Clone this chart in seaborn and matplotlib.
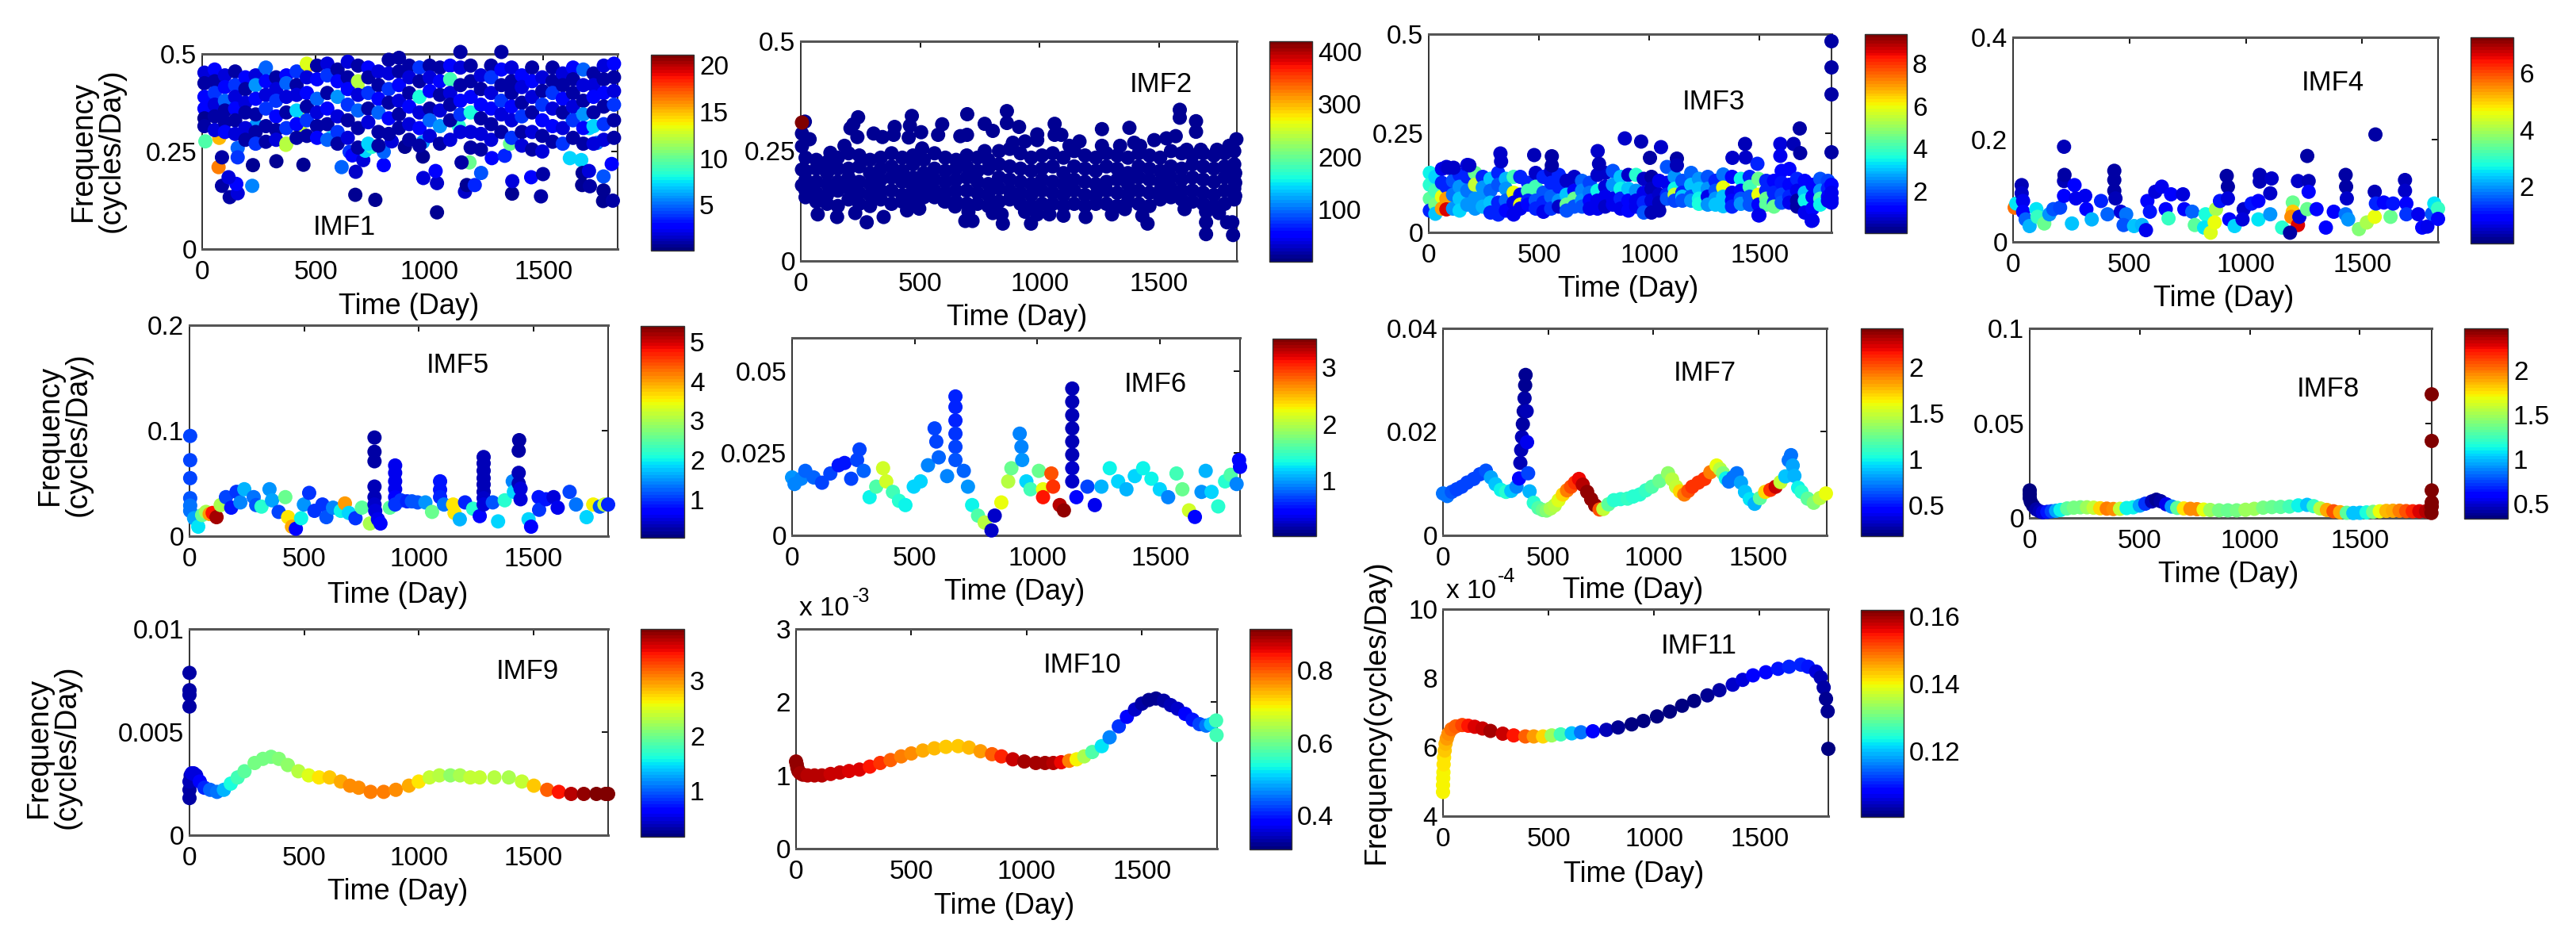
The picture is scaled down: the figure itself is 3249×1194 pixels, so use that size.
import numpy as np
import pandas as pd
import matplotlib
matplotlib.use("Agg")
import matplotlib.pyplot as plt
from matplotlib.cm import ScalarMappable
from matplotlib.colors import Normalize
import seaborn as sns

# ---------- data: (day, frequency, amplitude) ----------
IMF1_COL_DAY = [10,55,100,145,190,235,280,325,370,415,460,505,550,595,640,685,730,775,820,865,910,955,1000,1045,1090,1135,1180,1225,1270,1315,1360,1405,1450,1495,1540,1585,1630,1675,1720,1765,1810]
IMF1_COL_FREQ = [[.452,.425,.39,.36,.335,.315],[.46,.43,.40,.37,.34,.305],[.445,.415,.38,.355,.325,.30],[.455,.42,.39,.36,.33,.295],[.44,.41,.375,.35,.31,.28],[.445,.42,.385,.345,.30,.27],[.465,.43,.395,.36,.315,.275],[.44,.41,.38,.34,.305,.28],[.445,.425,.39,.35,.31,.27],[.455,.42,.395,.355,.32,.285],[.475,.44,.40,.365,.33,.29],[.47,.435,.385,.35,.315,.285],[.475,.445,.40,.36,.32,.28],[.46,.43,.39,.34,.30,.27],[.48,.44,.41,.37,.33,.285],[.47,.43,.395,.355,.31,.26],[.465,.44,.40,.36,.325,.27],[.455,.42,.385,.35,.30,.265],[.485,.45,.41,.375,.335,.295],[.49,.455,.42,.38,.345,.31],[.47,.44,.40,.365,.32,.28],[.465,.43,.39,.35,.31,.265],[.47,.44,.405,.36,.33,.29],[.465,.43,.395,.355,.315,.27],[.47,.435,.40,.37,.33,.28],[.505,.465,.42,.38,.345,.30],[.47,.43,.39,.35,.30,.26],[.445,.41,.37,.335,.295,.255],[.47,.44,.40,.36,.32,.28],[.505,.46,.42,.38,.345,.30],[.465,.43,.40,.365,.33,.285],[.445,.415,.375,.34,.30,.265],[.465,.43,.39,.35,.30,.255],[.44,.405,.37,.33,.29,.25],[.465,.43,.40,.36,.315,.275],[.45,.42,.385,.35,.31,.27],[.465,.435,.40,.365,.33,.285],[.46,.42,.38,.345,.31,.27],[.45,.42,.39,.35,.315,.27],[.47,.435,.40,.365,.32,.28],[.475,.44,.405,.37,.33,.285]]
IMF1_COL_AMP = [[2,.8,3,3,.6,.8],[3,1,4,2,1,2],[2,3,5,1,.8,3],[1,4,2,3,1,2],[3,1,2,.8,2,1],[2,6,3,1,.8,4],[5,3,2,4,1,.8],[1,2,4,3,.8,2],[3,5,2,1,4,12],[4,1,2,7,3,.8],[13,2,3,1,4,.8],[1,3,5,2,.8,3],[2,4,1,3,.8,5],[1,3,6,2,4,1],[2,1,3,4,.8,2],[1,12,2,5,.8,.8],[3,.8,4,1,2,7],[2,1,3,5,.8,1],[.8,2,4,1,3,1],[1,.8,3,2,.8,1],[1,2,.8,3,2,.8],[4,1,8,2,3,1],[.8,2,3,1,5,2],[1,3,.8,2,6,1],[3,9,2,1,.8,2],[.8,2,1,3,4,2],[1,.8,3,8,2,1],[2,1,3,.8,2,1],[1,4,2,3,.8,2],[.8,3,1,4,2,1],[2,1,.8,3,2,4],[3,2,1,4,.8,2],[1,3,2,.8,2,1],[2,1,4,3,.8,2],[1,.8,4,2,3,1],[2,1,3,.8,2,4],[3,.8,1,2,4,1],[5,2,1,6,3,.8],[1,2,3,.8,7,2],[2,1,3,.8,4,2],[3,1,2,4,.8,1]]
IMF1_DAY = [72,87,121,156,87,150,116,220,326,445,223,673,761,1032,972,1032,1026,675,613,798,1155,1163,1198,1226,1175,1140,1362,1363,1489,1446,1498,1670,1704,1764,1764,1762,1805,1666,1616,1672,1700,1800,1273,1330,1353,970,970,648,660,708,717,798,833,891,746,156,156,368,434,437,14,75,1128,683,463,272,567,237,1701,1625,1735]
IMF1_FREQ = [.21,.235,.133,.143,.162,.167,.184,.162,.225,.216,.215,.139,.126,.094,.182,.169,.2,.198,.21,.215,.147,.164,.164,.195,.222,.222,.142,.174,.135,.184,.192,.164,.161,.186,.15,.123,.124,.228,.233,.195,.2,.218,.233,.239,.27,.237,.274,.249,.24,.228,.252,.249,.276,.262,.262,.259,.235,.267,.3,.337,.276,.285,.315,.416,.47,.455,.285,.317,.31,.337,.272]
IMF1_AMP = [16.5,.8,.8,2,1,3,2,5.5,.6,.6,.6,.6,.6,.5,2,1.5,2.5,1.5,5,2.5,1.5,.6,3.5,4.5,10,.8,.6,2,1,2.5,.8,.6,.8,4.5,.7,.7,.8,7,7,.7,2,2.5,2.5,3.5,10,.7,6,4,3,2,7,5,2,.7,8.5,5,4,12.5,12.5,12.5,9.5,15,8.5,12.5,15,6.5,7,6,7,7,5]

IMF2_COL_DAY = [20,65,110,155,200,245,290,335,380,425,470,515,560,605,650,695,740,785,830,875,920,965,1010,1055,1100,1145,1190,1235,1280,1325,1370,1415,1460,1505,1550,1595,1640,1685,1730,1775,1815]
IMF2_COL_FREQ = [[.235,.205,.185,.16,.145],[.23,.21,.18,.155,.135],[.225,.2,.175,.15,.13],[.235,.21,.18,.16,.125],[.245,.21,.19,.165,.14],[.24,.215,.18,.155,.13],[.23,.2,.175,.15,.125],[.235,.21,.185,.16,.14],[.245,.215,.19,.16,.13],[.235,.205,.18,.15,.135],[.24,.22,.19,.165,.14],[.23,.2,.175,.155,.145],[.245,.21,.185,.16,.145],[.235,.205,.18,.155,.135],[.23,.21,.185,.16,.135],[.24,.215,.19,.16,.13],[.235,.205,.18,.155,.13],[.23,.21,.175,.15,.125],[.25,.22,.19,.165,.135],[.255,.215,.185,.16,.14],[.245,.21,.18,.155,.13],[.235,.205,.175,.15,.125],[.24,.21,.185,.16,.13],[.245,.215,.18,.155,.13],[.235,.2,.175,.15,.125],[.25,.215,.185,.16,.13],[.24,.21,.18,.15,.125],[.235,.205,.175,.15,.13],[.245,.215,.18,.16,.13],[.24,.21,.185,.155,.125],[.235,.2,.175,.15,.135],[.245,.215,.19,.16,.13],[.24,.21,.185,.155,.125],[.235,.205,.18,.16,.14],[.25,.215,.19,.165,.145],[.245,.21,.185,.16,.14],[.24,.22,.19,.16,.135],[.245,.215,.185,.155,.13],[.24,.21,.18,.15,.125],[.245,.215,.19,.16,.13],[.25,.22,.195,.165,.14]]
IMF2_DAY = [17,5,37,5,124,183,208,220,240,237,305,342,393,389,465,457,452,504,508,592,575,668,696,697,770,770,804,863,863,914,888,939,990,990,1063,1063,1091,1167,1125,1261,1261,1337,1376,1396,1421,1480,1531,1570,1587,1587,1655,1655,1616,1675,1743,1794,1824,71,152,228,276,347,445,496,601,646,689,719,702,804,846,841,964,939,990,1041,1100,1193,1303,1357,1430,1452,1607,1697,1697,1697,1751,1785,1810,1807,1819,1819,1819,5,5,29,42,5]
IMF2_FREQ = [.317,.29,.277,.261,.246,.262,.302,.311,.327,.282,.29,.282,.305,.287,.33,.308,.281,.293,.256,.311,.287,.284,.287,.334,.312,.25,.296,.341,.314,.305,.269,.272,.288,.275,.312,.287,.287,.272,.262,.3,.262,.262,.303,.269,.262,.275,.279,.284,.344,.326,.318,.294,.253,.253,.253,.262,.277,.106,.1,.109,.088,.1,.115,.119,.136,.124,.091,.091,.112,.109,.085,.106,.085,.112,.106,.106,.103,.1,.106,.118,.103,.085,.118,.112,.088,.061,.109,.088,.059,.088,.148,.178,.2,.172,.208,.154,.172,.315]
IMF2_AMP_LOW = 8
IMF2_AMP_HIGH = 420

IMF3_COL_DAY = [5,30,60,80,110,140,175,210,245,280,315,350,385,415,450,485,520,555,590,625,660,695,730,765,800,835,870,905,940,975,1010,1045,1080,1115,1150,1190,1225,1265,1300,1335,1375,1415,1455,1495,1530,1565,1600,1635,1670,1705,1740,1775,1810,1826]
IMF3_COL_FREQ = [[.15,.12,.085,.055],[.14,.105,.07,.047],[.16,.125,.09,.06],[.165,.115,.085,.058],[.16,.13,.095,.06],[.145,.115,.085,.055],[.17,.14,.105,.07],[.15,.12,.085,.06],[.14,.113,.09,.065],[.135,.105,.075,.05],[.15,.12,.075,.045],[.135,.11,.08,.055],[.14,.1,.075,.045],[.14,.095,.07,.06],[.125,.105,.08,.07],[.15,.115,.08,.06],[.14,.1,.075,.052],[.155,.125,.09,.06],[.145,.115,.08,.065],[.13,.095,.07,.055],[.14,.105,.085,.065],[.13,.105,.08,.065],[.125,.1,.08,.06],[.145,.105,.08,.06],[.15,.115,.09,.065],[.155,.12,.085,.07],[.14,.11,.085,.06],[.145,.11,.08,.055],[.145,.105,.08,.065],[.135,.1,.075,.05],[.14,.11,.08,.05],[.13,.095,.075,.055],[.165,.125,.095,.085],[.14,.11,.095,.08],[.13,.1,.09,.08],[.15,.12,.09,.08],[.135,.11,.085,.072],[.14,.11,.09,.07],[.13,.105,.085,.07],[.146,.113,.09,.066],[.14,.1,.08,.065],[.135,.105,.085,.072],[.14,.115,.09,.07],[.135,.095,.07,.043],[.13,.105,.085,.07],[.13,.1,.075,.065],[.155,.125,.095,.075],[.16,.12,.09,.075],[.135,.105,.08,.065],[.13,.1,.08,.05],[.12,.09,.06,.03],[.135,.105,.085,.07],[.13,.11,.09,.08],[.12,.1,.085,.075]]
IMF3_COL_AMP = [[3.5,3.8,4.3,1.5],[3.2,4,4.6,3],[.9,1.5,6,7],[.8,1.5,7,8.6],[.8,2,2.3,2.5],[1.5,2.5,3,3.2],[.8,1.5,2.3,2.5],[4.5,5.5,2.5,2.5],[1.5,2.5,2.5,2.8],[3,2.2,3,1.5],[1.5,2,1.5,1.5],[2.8,2.5,2.2,1.3],[4,6,1,1],[1.5,1,6,1],[1.5,4,1.5,1.2],[.7,4,2,1.5],[1.5,2,1.5,1],[.7,1.5,2.2,1.7],[1.5,1.5,2.5,.7],[.7,3,4.5,2],[.7,1.2,4.5,2],[2.2,2.4,2.6,2],[1.8,2.3,1.2,1],[.7,3.5,.9,1],[.7,.8,1,.7],[2,2.5,1,1],[3,3.5,1.5,1],[.7,3,1.3,1.3],[3.7,2.5,1,.9],[.6,1,1.5,2],[.4,.5,.8,.5],[1,.6,.5,.5],[2,1,1.5,2],[2.5,3.5,5.5,1.8],[2,1.5,3,2],[2.2,3,2,2.5],[2.5,3,3.5,3.6],[2,2.5,1,2.5],[1.5,2,2.5,3],[2.3,6,3,3],[1.3,1,1.3,1.5],[3.5,1.2,2,2.5],[1.5,4,2,2],[4.5,6,1.2,1],[1.5,1.5,4.5,4.3],[1.3,1.5,1.5,4.5],[1.3,1.4,1.8,2],[1.3,1.3,1.5,1],[1.5,1,.4,.4],[1.2,3,3.5,1],[1.1,1.3,1.3,1],[2,2.5,4,3.5],[1.8,1.5,1.3,1],[1.2,1,1,1]]
IMF3_DAY = [1826,1826,1826,1826,1682,889,963,1053,1003,1434,1377,1437,1594,1654,1684,1594,1490,478,558,558,766,772,325,328,184,89,113,1125,1125,1499,1736]
IMF3_FREQ = [.482,.416,.348,.202,.262,.237,.229,.215,.188,.223,.188,.189,.223,.223,.2,.193,.173,.195,.192,.169,.205,.173,.199,.179,.169,.163,.163,.186,.169,.043,.029]
IMF3_AMP = [.3,.3,.3,.3,.3,.6,.5,.6,.4,.5,.6,.6,.8,.5,.3,.9,1.5,.5,.3,.4,.7,.5,.7,.7,.7,.6,.6,.4,.5,.9,.9]

IMF4_DAY = [7,14,37,37,43,43,54,71,100,105,134,156,173,202,219,221,219,219,253,264,270,310,315,338,378,406,435,435,435,440,463,486,475,520,554,571,577,588,611,639,656,679,668,730,736,770,781,827,821,849,872,866,889,918,923,923,929,952,991,986,1025,1054,1060,1060,1111,1105,1054,1105,1156,1202,1202,1196,1224,1230,1190,1264,1224,1270,1270,1264,1304,1344,1378,1429,1431,1434,1429,1440,1486,1520,1554,1554,1559,1593,1622,1633,1684,1684,1690,1690,1741,1758,1557,1780,1800,1810,1826,1826]
IMF4_FREQ = [.067,.075,.111,.095,.08,.059,.044,.031,.064,.049,.036,.054,.064,.067,.119,.131,.186,.09,.036,.111,.085,.09,.064,.044,.08,.054,.139,.121,.1,.085,.059,.054,.033,.031,.033,.023,.08,.059,.098,.108,.064,.093,.046,.093,.064,.059,.033,.054,.028,.018,.064,.038,.08,.129,.108,.085,.044,.031,.064,.044,.075,.08,.131,.118,.124,.095,.044,.054,.028,.077,.059,.049,.033,.049,.018,.168,.119,.119,.098,.064,.064,.028,.059,.131,.108,.085,.054,.044,.025,.038,.049,.098,.075,.077,.049,.075,.121,.1,.075,.054,.054,.028,.21,.03,.055,.075,.065,.045]
IMF4_AMP = [5.7,2.5,.4,.5,.7,1,1.6,2.2,2.6,3,3.4,2,1.5,1.4,.4,.3,.4,.8,2.3,.8,.7,.7,.9,2.2,1.2,1.6,.3,.3,.3,.4,.6,1.7,1.5,2.3,2.2,.7,1,1.1,.6,.7,.9,.8,3,.6,1,1.6,3.3,2.8,2.5,4.5,4,4.6,1.1,.3,.3,.6,1,2.4,.5,.6,1.1,.9,.4,.4,.5,.5,2.5,2,2.9,3.4,5,5.5,6.6,.6,.3,.3,.5,.4,.8,3.5,1,.8,.8,.3,.3,.5,1.8,2,3.7,4,4.6,.4,1.2,.9,3.5,1.1,.4,.5,.9,1.3,.7,.8,.3,.7,1.5,2.5,3,1]

IMF5_DAY = [3,3,3,3,3,3,20,38,55,72,88,101,118,136,159,182,205,222,239,280,291,314,349,360,389,418,430,447,464,487,499,522,545,580,597,626,660,678,695,724,752,787,807,807,807,807,807,807,810,822,833,874,897,897,897,897,897,897,922,949,970,995,1029,1058,1093,1093,1093,1110,1150,1156,1179,1202,1237,1266,1283,1283,1283,1283,1283,1283,1283,1283,1323,1346,1375,1410,1415,1438,1436,1436,1436,1444,1444,1479,1490,1523,1525,1555,1588,1606,1658,1686,1732,1761,1790,1810,1826]
IMF5_FREQ = [.095,.072,.055,.036,.029,.024,.017,.009,.02,.023,.021,.022,.018,.0295,.037,.027,.042,.032,.0445,.037,.0295,.028,.0445,.034,.023,.037,.018,.009,.007,.017,.03,.041,.024,.03,.018,.027,.024,.031,.022,.017,.027,.012,.0935,.08,.071,.047,.037,.03,.024,.016,.012,.027,.067,.06,.052,.0445,.037,.03,.034,.033,.033,.032,.032,.023,.052,.044,.037,.03,.03,.022,.016,.032,.026,.019,.075,.069,.062,.055,.049,.042,.036,.03,.032,.014,.034,.052,.042,.091,.081,.06,.05,.045,.035,.016,.009,.037,.025,.035,.037,.027,.042,.03,.018,.03,.028,.03,.03]
IMF5_AMP = [1.1,1.1,1.1,1.2,1.3,1.3,1.6,1.9,2.6,3,4,4.8,5.2,3,1.1,.8,1,1.4,1.7,1.3,1.2,2.2,1.5,1.6,1.1,2.6,3.6,3.9,.7,2,1.5,1,1,1,1.2,1.4,2,4,1.8,1,2.5,3,.2,.2,.2,.3,.3,.4,.5,.6,.7,2.5,.6,.6,.6,.6,.7,1,1,.9,1.2,1.2,1.5,2.6,.8,.8,.9,1.3,3.6,3.6,1.7,.9,2.2,.7,.3,.3,.3,.3,.3,.3,.4,.5,1.2,1.8,2.2,1.4,1.8,.2,.2,.3,.3,.5,.5,1.8,.7,.8,1,.8,.5,.6,1.1,1.3,1.8,3.5,1.2,3.2,.9]

IMF6_DAY = [0,10,37,54,88,122,156,190,214,241,265,275,292,316,343,371,384,411,436,462,496,524,554,581,588,598,632,666,666,666,666,666,666,700,717,734,758,785,813,826,853,881,894,928,935,938,955,972,1006,1023,1023,1057,1064,1091,1108,1142,1142,1142,1142,1142,1142,1142,1142,1159,1204,1234,1261,1295,1329,1363,1397,1431,1465,1499,1533,1567,1591,1618,1642,1669,1686,1710,1737,1765,1788,1812,1822,1826]
IMF6_FREQ = [.0176,.0156,.0172,.0196,.0176,.016,.0188,.0213,.022,.0172,.0229,.0261,.0196,.0116,.0148,.0204,.0164,.0132,.0105,.0092,.0148,.0164,.0213,.0325,.0285,.0237,.018,.0422,.039,.0349,.0309,.0269,.0229,.0196,.0148,.0092,.006,.0039,.0015,.006,.01,.0164,.0204,.0309,.0269,.0229,.0164,.014,.0196,.014,.0116,.0188,.0148,.0092,.0076,.0446,.0406,.0365,.0325,.0285,.0245,.0204,.0164,.0116,.0148,.0092,.0148,.0204,.0164,.014,.018,.0204,.0172,.014,.0116,.0188,.014,.0076,.0056,.0132,.0196,.0132,.0088,.0164,.0184,.0156,.0229,.0208]
IMF6_AMP = [1,.9,.9,.8,.8,.7,.7,.55,.55,.7,.7,.7,.8,1.3,1.6,2.1,2.1,1.5,1.4,1.3,1.2,1.2,.9,.7,.7,.8,.9,.6,.6,.6,.65,.7,.75,.8,1,1.3,1.6,2,.3,.3,2.2,2,1.7,.9,.9,1,1.2,1.5,1.7,2.2,3.1,2.9,3,3.3,3.4,.2,.2,.2,.2,.2,.2,.25,.3,.5,.7,.4,1.1,1.3,1.2,1.1,1.2,1.3,1.3,1.2,.9,1.5,1.7,2.1,.5,1,1.1,1.2,1.4,1.4,1.6,.9,.5,.5]

IMF7_DAY = [0,20,42,65,89,115,146,175,204,228,250,275,300,325,350,362,368,372,376,380,384,388,391,393,398,400,405,412,432,454,475,493,512,532,550,570,590,609,628,647,665,686,705,724,745,763,787,813,845,878,905,936,965,994,1030,1071,1090,1109,1128,1148,1167,1186,1215,1244,1272,1302,1318,1333,1346,1360,1380,1398,1418,1437,1460,1483,1508,1533,1558,1583,1606,1629,1645,1656,1664,1672,1690,1706,1735,1764,1793,1822]
IMF7_FREQ = [.0081,.0076,.0084,.0089,.0094,.0102,.0109,.0118,.0125,.0112,.0099,.0088,.0084,.0086,.0094,.011,.014,.0165,.019,.0215,.024,.0265,.029,.031,.024,.018,.012,.0085,.0063,.0053,.0049,.0048,.0052,.0058,.0068,.0079,.0087,.0094,.0102,.0109,.0098,.0084,.007,.0058,.005,.0051,.006,.0068,.007,.0071,.0075,.0079,.0087,.0094,.0105,.012,.0108,.0094,.0085,.0079,.0086,.0094,.0102,.0109,.0122,.0135,.0128,.012,.011,.0104,.0112,.012,.0102,.0084,.007,.0061,.0072,.0084,.0088,.0094,.0103,.0114,.0145,.0155,.0135,.0115,.0092,.0084,.0071,.0063,.0072,.0081]
IMF7_AMP = [.7,.7,.65,.6,.6,.6,.6,.6,.65,.8,.9,1,1.05,.9,.75,.45,.3,.3,.3,.25,.25,.25,.22,.22,.3,.4,.6,.85,1.05,1.15,1.25,1.3,1.4,1.45,1.55,1.7,1.9,2,2.1,2.2,2.3,2.35,2.38,2.35,2,1.5,1.2,1.05,1.05,1.1,1.05,1.05,1.1,1.15,1.25,1.35,1.45,1.5,1.7,1.9,2,2.1,2.1,2.1,1.9,1.6,1.45,1.3,1,.7,.7,.7,.8,.9,.95,.85,1.2,1.7,2.1,2.25,1.5,.9,.7,.7,.8,.85,1,1.05,1.2,1.3,1.45,1.6]

IMF8_DAY = [0,0,0,5,15,30,45,60,80,100,120,140,170,200,230,260,290,320,350,380,410,440,470,500,525,555,575,595,620,645,670,700,730,760,790,820,860,900,940,980,1020,1060,1100,1140,1180,1220,1260,1290,1320,1350,1380,1410,1440,1470,1500,1530,1560,1590,1620,1650,1680,1710,1740,1770,1800,1820,1825,1826,1826,1826,1826,1826]
IMF8_FREQ = [.0145,.0125,.0105,.0085,.0065,.0045,.0035,.003,.0032,.0035,.0038,.0042,.005,.0054,.0056,.0056,.0054,.0051,.0049,.0047,.0048,.0052,.0056,.0065,.0075,.0087,.0096,.0088,.0072,.006,.0053,.005,.0048,.0046,.0044,.0042,.004,.004,.004,.0043,.0048,.0054,.0057,.0058,.006,.0066,.0069,.0062,.005,.0042,.0035,.003,.0027,.0026,.0027,.0029,.0032,.0035,.0037,.0038,.0038,.0036,.0035,.0035,.0035,.0045,.0026,.006,.0082,.0145,.0406,.0652]
IMF8_AMP = [.35,.35,.35,.35,.35,.4,.45,.5,.65,.75,.95,1.1,1.3,1.4,1.4,1.5,1.6,1.8,2,1.95,1.6,1.1,1.1,.95,.7,.45,.38,.4,.55,.9,1.3,1.75,1.95,1.95,1.7,1.5,1.4,1.35,1.4,1.5,1.5,1.4,1.35,1.3,1.25,1.1,1,1.2,1.55,1.9,2.1,1.9,1.3,1,1,1.15,1.4,1.7,1.85,1.9,2,2.1,2.2,2.3,2.35,2.4,2.45,2.47,2.47,2.47,2.47,2.47]

IMF9_DAY = [0,0,0,0,0,0,0,5,10,18,29,45,65,90,120,150,180,210,240,284,320,356,390,429,475,520,565,611,660,700,738,790,847,900,957,1000,1047,1090,1138,1180,1225,1266,1330,1393,1450,1502,1560,1611,1665,1720,1775,1815,1826]
IMF9_FREQ = [.00787,.00703,.0068,.00624,.0018,.0022,.0026,.0029,.003,.003,.0029,.0026,.0023,.0022,.0021,.0022,.0025,.0028,.0031,.0035,.0037,.0038,.0037,.0034,.0031,.0029,.0028,.0028,.0026,.0024,.0023,.0021,.0021,.0022,.0024,.0026,.0028,.0029,.0029,.0029,.0028,.0028,.0028,.0028,.0026,.0024,.0022,.0021,.002,.002,.002,.002,.002]
IMF9_AMP = [.3,.3,.3,.3,.3,.3,.35,.4,.5,.5,.5,.6,.8,1,1.1,1.3,1.6,1.8,1.9,2,2,2.05,2.1,2.15,2.3,2.5,2.7,2.8,2.9,3,3.05,3.1,3.1,3.05,2.9,2.7,2.4,2.3,2.15,2.25,2.35,2.4,2.3,2.25,2.4,2.8,3.2,3.5,3.75,3.85,3.9,3.94,3.94]

IMF10_DAY = [0,3,6,10,18,30,50,80,112,150,190,230,275,320,365,410,456,500,550,600,650,703,750,800,850,891,940,990,1040,1080,1116,1150,1185,1217,1250,1285,1326,1360,1400,1435,1470,1500,1530,1561,1595,1625,1655,1688,1720,1750,1779,1800,1822,1824]
IMF10_FREQ = [1.19,1.15,1.1,1.06,1.03,1.01,1,1,1,1.02,1.04,1.06,1.08,1.12,1.17,1.21,1.26,1.3,1.34,1.37,1.39,1.4,1.38,1.33,1.29,1.26,1.22,1.19,1.17,1.17,1.17,1.18,1.2,1.22,1.26,1.32,1.4,1.52,1.67,1.8,1.9,1.98,2.03,2.05,2.02,1.96,1.91,1.84,1.76,1.7,1.68,1.7,1.75,1.55]
IMF10_AMP = [.9,.9,.9,.9,.89,.89,.88,.88,.88,.87,.87,.86,.86,.84,.82,.8,.78,.77,.75,.74,.73,.73,.74,.76,.8,.83,.87,.89,.89,.89,.88,.85,.78,.7,.64,.58,.52,.46,.41,.38,.35,.33,.32,.32,.33,.34,.35,.38,.4,.42,.45,.5,.57,.57]

IMF11_DAY = [0,0,1,2,3,5,8,12,18,26,40,60,91,120,150,187,225,283,335,390,430,474,515,558,610,654,710,774,830,894,950,1014,1075,1133,1190,1253,1310,1373,1420,1469,1530,1588,1640,1696,1730,1768,1790,1804,1815,1823,1826]
IMF11_FREQ = [4.7,4.9,5.1,5.27,5.5,5.7,5.9,6.1,6.25,6.39,6.52,6.6,6.64,6.62,6.59,6.54,6.47,6.39,6.34,6.31,6.31,6.31,6.34,6.37,6.4,6.43,6.46,6.5,6.57,6.66,6.76,6.89,7.03,7.2,7.34,7.5,7.65,7.81,7.95,8.08,8.17,8.27,8.33,8.39,8.33,8.19,8.02,7.73,7.4,7.04,5.95]
IMF11_AMP = [.14,.14,.14,.14,.141,.141,.143,.144,.146,.147,.149,.15,.152,.155,.157,.158,.16,.158,.155,.15,.146,.142,.134,.127,.12,.115,.108,.104,.102,.101,.1005,.1005,.1005,.1005,.101,.102,.103,.105,.106,.108,.109,.11,.111,.111,.11,.106,.104,.103,.102,.102,.101]


def flatten(days, freqs, amps):
    d, f, a = [], [], []
    for day, fs, am in zip(days, freqs, amps):
        for x, y in zip(fs, am):
            d.append(day); f.append(x); a.append(y)
    return d, f, a


c1 = flatten(IMF1_COL_DAY, IMF1_COL_FREQ, IMF1_COL_AMP)
c2f = IMF2_COL_FREQ
c2 = flatten(IMF2_COL_DAY, c2f, [[IMF2_AMP_LOW] * len(v) for v in c2f])
c3 = flatten(IMF3_COL_DAY, IMF3_COL_FREQ, IMF3_COL_AMP)

SERIES = {
    "IMF1": (IMF1_DAY + c1[0], IMF1_FREQ + c1[1], IMF1_AMP + c1[2]),
    "IMF2": (c2[0] + IMF2_DAY, c2[1] + IMF2_FREQ, c2[2] + [IMF2_AMP_LOW] * (len(IMF2_DAY) - 1) + [IMF2_AMP_HIGH]),
    "IMF3": (c3[0] + IMF3_DAY, c3[1] + IMF3_FREQ, c3[2] + IMF3_AMP),
    "IMF4": (IMF4_DAY, IMF4_FREQ, IMF4_AMP),
    "IMF5": (IMF5_DAY, IMF5_FREQ, IMF5_AMP),
    "IMF6": (IMF6_DAY, IMF6_FREQ, IMF6_AMP),
    "IMF7": (IMF7_DAY, IMF7_FREQ, IMF7_AMP),
    "IMF8": (IMF8_DAY, IMF8_FREQ, IMF8_AMP),
    "IMF9": (IMF9_DAY, IMF9_FREQ, IMF9_AMP),
    "IMF10": (IMF10_DAY, IMF10_FREQ, IMF10_AMP),
    "IMF11": (IMF11_DAY, IMF11_FREQ, IMF11_AMP),
}

# ---------- layout (pixels of the target image) ----------
W, H = 3249, 1194
PANELS = [
    # name, axes box, colour-bar box, ylim, yticks, ylabels, clim, cticks, clabels, name xy, xlabel xy
    ("IMF1",(255,68,779,314),(821,69,875,316),(0,.5),[0,.25,.5],["0","0.25","0.5"],(.1,21.1),[5,10,15,20],["5","10","15","20"],(434,287),(516,387)),
    ("IMF2",(1010,52,1560,329),(1601,52,1655,330),(0,.5),[0,.25,.5],["0","0.25","0.5"],(0,420),[100,200,300,400],["100","200","300","400"],(1464,107),(1283,400)),
    ("IMF3",(1802,43,2310,293),(2352,43,2405,294),(0,.5),[0,.25,.5],["0","0.25","0.5"],(0,9.4),[2,4,6,8],["2","4","6","8"],(2161,128),(2054,364)),
    ("IMF4",(2539,47,3075,305),(3116,47,3170,307),(0,.4),[0,.2,.4],["0","0.2","0.4"],(0,7.25),[2,4,6],["2","4","6"],(2942,104),(2805,377)),
    ("IMF5",(239,410,767,676),(808,411,863,678),(0,.2),[0,.1,.2],["0","0.1","0.2"],(.03,5.4),[1,2,3,4,5],["1","2","3","4","5"],(577,460),(502,750)),
    ("IMF6",(999,426,1564,675),(1605,427,1660,676),(0,.06),[0,.025,.05],["0","0.025","0.05"],(.03,3.5),[1,2,3],["1","2","3"],(1457,484),(1280,747)),
    ("IMF7",(1820,414,2304,675),(2347,414,2400,676),(0,.04),[0,.02,.04],["0","0.02","0.04"],(.16,2.42),[.5,1,1.5,2],["0.5","1","1.5","2"],(2150,471),(2060,745)),
    ("IMF8",(2560,414,3067,653),(3108,414,3163,654),(0,.1),[0,.05,.1],["0","0.05","0.1"],(.33,2.47),[.5,1,1.5,2],["0.5","1","1.5","2"],(2936,491),(2811,725)),
    ("IMF9",(239,793,767,1053),(808,793,863,1055),(0,.01),[0,.005,.01],["0","0.005","0.01"],(.17,3.94),[1,2,3],["1","2","3"],(665,847),(502,1125)),
    ("IMF10",(1004,793,1535,1070),(1576,793,1629,1071),(0,3),[0,1,2,3],["0","1","2","3"],(.305,.915),[.4,.6,.8],["0.4","0.6","0.8"],(1365,839),(1267,1143)),
    ("IMF11",(1820,768,2306,1029),(2347,769,2401,1030),(4,10),[4,6,8,10],["4","6","8","10"],(.1005,.162),[.12,.14,.16],["0.12","0.14","0.16"],(2143,815),(2061,1102)),
]

sns.set_theme(style="white")
plt.rcParams["font.family"] = ["Liberation Sans", "DejaVu Sans"]
plt.rcParams["mathtext.default"] = "regular"

JET = plt.get_cmap("jet", 64)
fig = plt.figure(figsize=(W / 100, H / 100), dpi=100, facecolor="white")


def box(b):
    x0, y0, x1, y1 = b
    return [x0 / W, 1 - y1 / H, (x1 - x0) / W, (y1 - y0) / H]


def label(x, y, s, **kw):
    fig.text(x / W, 1 - y / H, s, ha="center", va="center", color="black", **kw)


for name, axb, cb, ylim, yt, yl, clim, ct, cl, npos, xpos in PANELS:
    ax = fig.add_axes(box(axb))
    d, f, a = SERIES[name]
    df = pd.DataFrame({"day": d, "freq": f, "amp": a})
    sns.scatterplot(data=df, x="day", y="freq", hue="amp", palette=JET, hue_norm=clim,
                    s=168, linewidth=0, legend=False, ax=ax, clip_on=False, zorder=3)
    ax.set_xlim(0, 1826)
    ax.set_ylim(*ylim)
    ax.set_xticks([0, 500, 1000, 1500])
    ax.set_xticklabels(["0", "500", "1000", "1500"])
    ax.set_yticks(yt)
    ax.set_yticklabels(yl)
    ax.set_xlabel("")
    ax.set_ylabel("")
    ax.tick_params(direction="in", length=6, width=1.3, top=True, right=True,
                   labelsize=24, pad=10, colors="black")
    ax.tick_params(axis="y", pad=5)
    for side, sp in ax.spines.items():
        sp.set_visible(True)
        sp.set_color("#333333" if side in ("left", "right") else "#555555")
        sp.set_linewidth(1.4 if side in ("left", "right") else 2.2)
    cax = fig.add_axes(box(cb))
    sm = ScalarMappable(norm=Normalize(*clim), cmap=JET)
    cbar = fig.colorbar(sm, cax=cax, ticks=ct)
    cbar.ax.set_yticklabels(cl)
    cbar.ax.tick_params(direction="in", length=3, width=1, labelsize=24, pad=5, colors="black", left=True, right=True)
    cbar.outline.set_linewidth(1)
    cbar.outline.set_edgecolor("#333333")
    label(npos[0], npos[1], name, fontsize=25)
    label(xpos[0], xpos[1], "Time (Day)", fontsize=26)

label(123, 190, "Frequency\n(cycles/Day)", fontsize=27, rotation=90, linespacing=1.0)
label(81, 548, "Frequency\n(cycles/Day)", fontsize=27, rotation=90, linespacing=1.0)
label(67, 942, "Frequency\n(cycles/Day)", fontsize=27, rotation=90, linespacing=1.0)
label(1736, 897, "Frequency(cycles/Day)", fontsize=27, rotation=90)

label(1040, 767, "x 10", fontsize=24)
label(1086, 752, "-3", fontsize=18)
label(1855, 745, "x 10", fontsize=24)
label(1900, 727, "-4", fontsize=18)

fig.savefig("out.png", dpi=100, facecolor="white")
